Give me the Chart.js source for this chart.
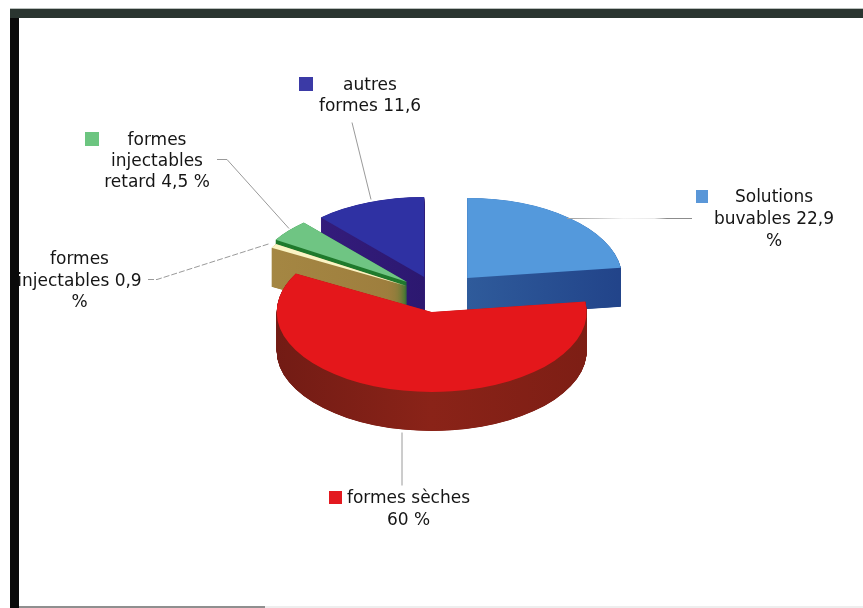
<!DOCTYPE html>
<html>
<head>
<meta charset="utf-8">
<style>html,body{margin:0;padding:0;background:#fff}canvas{display:block}</style>
<script src="https://cdn.jsdelivr.net/npm/chart.js@4/dist/chart.umd.min.js"></script>
</head>
<body>
<canvas id="c" width="863" height="608"></canvas>
<script>
const categories = ["Solutions buvables", "formes sèches", "formes injectables", "formes injectables retard", "autres formes"];
const values = [22.9, 60, 0.9, 4.5, 11.6];
const labelLines = [
  ["Solutions", "buvables 22,9", "%"],
  ["formes sèches", "60 %"],
  ["formes", "injectables 0,9", "%"],
  ["formes", "injectables", "retard 4,5 %"],
  ["autres", "formes 11,6"]
];
const topColors = ["#5499dc", "#e4171b", "#fbf4c4", "#6fc583", "#2f31a3"];
const sideColors = [
  ["#33609f", "#2f5b9b", "#1f3f86"],
  ["#6e1a14", "#8a2318", "#7b1d14"],
  ["#a78a45", "#9d7d3d", "#8f7a2e"],
  ["#1f7a2c", "#1f7a2c", "#1f7a2c"],
  ["#3a1f84", "#2c1870", "#2a1560"]
];
const markerColors = ["#5a97d8", "#e3191f", null, "#6cc580", "#3b3aa6"];
const sliceOffsets = [44.7, 32.6, 35, 40, 38];
const paintOrder = [4, 3, 2, 0, 1];

// layout of the projected pie
const pieCentre = { x: 437.7, y: 295.4 };
const squash = 0.516, depth = 39, pieRadius = 155, layerStep = 0.25;

// label layout: centre x, first line centre y, line height, marker box
const labelBoxes = [
  { cx: 774, y: 198, lh: 22, m: [696, 190, 12, 13] },
  { cx: 408.5, y: 499, lh: 22, m: [329, 491, 13, 13] },
  { cx: 79.5, y: 260, lh: 21.5, m: null },
  { cx: 157, y: 141, lh: 21, m: [85, 132, 14, 14] },
  { cx: 370, y: 86, lh: 21, m: [299, 77, 14, 14] }
];
const leaderLines = [
  [[567, 218], [692, 218]],
  [[402, 432], [402, 485]],
  [[148, 279], [157, 279], [270, 243]],
  [[217, 159], [227, 159], [289, 228]],
  [[352, 122], [371, 199]]
];

const frame3d = {
  id: 'frame3d',
  beforeDraw(chart) {
    const c = chart.ctx;
    c.save();
    c.fillStyle = '#ffffff';
    c.fillRect(0, 0, 863, 608);
    c.fillStyle = '#b9bfbc';
    c.fillRect(10, 8, 853, 1);
    c.fillStyle = '#2a3530';
    c.fillRect(10, 9, 853, 9);
    c.fillStyle = '#0a0a0a';
    c.fillRect(10, 18, 9, 590);
    c.fillStyle = '#8f8f8f';
    c.fillRect(19, 606, 246, 2);
    c.fillStyle = '#eeeeee';
    c.fillRect(265, 606, 598, 2);
    c.restore();
  },
  beforeDatasetsDraw(chart) {
    const c = chart.ctx;
    const arcs = chart.getDatasetMeta(0).data;
    paintOrder.forEach(i => {
      const arc = arcs[i];
      const base = arc.options;
      const mid = (arc.startAngle + arc.endAngle) / 2;
      const dx = Math.cos(mid) * base.offset, dy = Math.sin(mid) * base.offset;
      const grad = c.createLinearGradient(arc.x - pieRadius - 30, 0, arc.x + pieRadius + 30, 0);
      grad.addColorStop(0, sideColors[i][0]);
      grad.addColorStop(0.5, sideColors[i][1]);
      grad.addColorStop(1, sideColors[i][2]);
      // the slice is moved out here, so Arc.draw must not also apply the offset
      const sideOpts = Object.create(base);
      sideOpts.backgroundColor = grad;
      sideOpts.offset = 0;
      const topOpts = Object.create(base);
      topOpts.offset = 0;
      for (let k = depth; k >= 0; k -= layerStep) {
        c.save();
        c.translate(pieCentre.x, pieCentre.y + k);
        c.scale(1, squash);
        c.translate(dx - arc.x, dy - arc.y);
        arc.options = k === 0 ? topOpts : sideOpts;
        arc.draw(c);
        c.restore();
      }
      arc.options = base;
    });
    return false;
  },
  afterDraw(chart) {
    const c = chart.ctx;
    c.save();
    c.lineWidth = 1;
    leaderLines.forEach((pts, i) => {
      if (i === 0) {
        const g = c.createLinearGradient(pts[0][0], 0, pts[1][0], 0);
        g.addColorStop(0, '#a0a0a0');
        g.addColorStop(0.25, '#c8c8c8');
        g.addColorStop(0.45, '#f4f4f4');
        g.addColorStop(0.7, '#e8e8e8');
        g.addColorStop(0.8, '#8c8c8c');
        g.addColorStop(1, '#8c8c8c');
        c.strokeStyle = g;
      } else {
        c.strokeStyle = '#9a9a9a';
      }
      c.beginPath();
      pts.forEach((p, j) => j ? c.lineTo(p[0], p[1] + 0.5) : c.moveTo(p[0], p[1] + 0.5));
      if (i === 2) c.setLineDash([6, 2]); else c.setLineDash([]);
      c.stroke();
    });
    c.setLineDash([]);
    c.font = '17px "DejaVu Sans"';
    c.fillStyle = '#151515';
    c.textAlign = 'center';
    c.textBaseline = 'middle';
    labelLines.forEach((lines, i) => {
      const b = labelBoxes[i];
      lines.forEach((t, j) => c.fillText(t, b.cx, b.y + j * b.lh));
      if (b.m) {
        c.fillStyle = markerColors[i];
        c.fillRect(b.m[0], b.m[1], b.m[2], b.m[3]);
        c.fillStyle = '#151515';
      }
    });
    c.restore();
  }
};

new Chart(document.getElementById('c'), {
  type: 'pie',
  data: {
    labels: categories,
    datasets: [{
      data: values,
      backgroundColor: topColors,
      offset: sliceOffsets,
      borderWidth: 0
    }]
  },
  options: {
    responsive: false,
    animation: false,
    radius: pieRadius,
    events: [],
    plugins: { legend: { display: false }, tooltip: { enabled: false } }
  },
  plugins: [frame3d]
});
</script>
</body>
</html>
